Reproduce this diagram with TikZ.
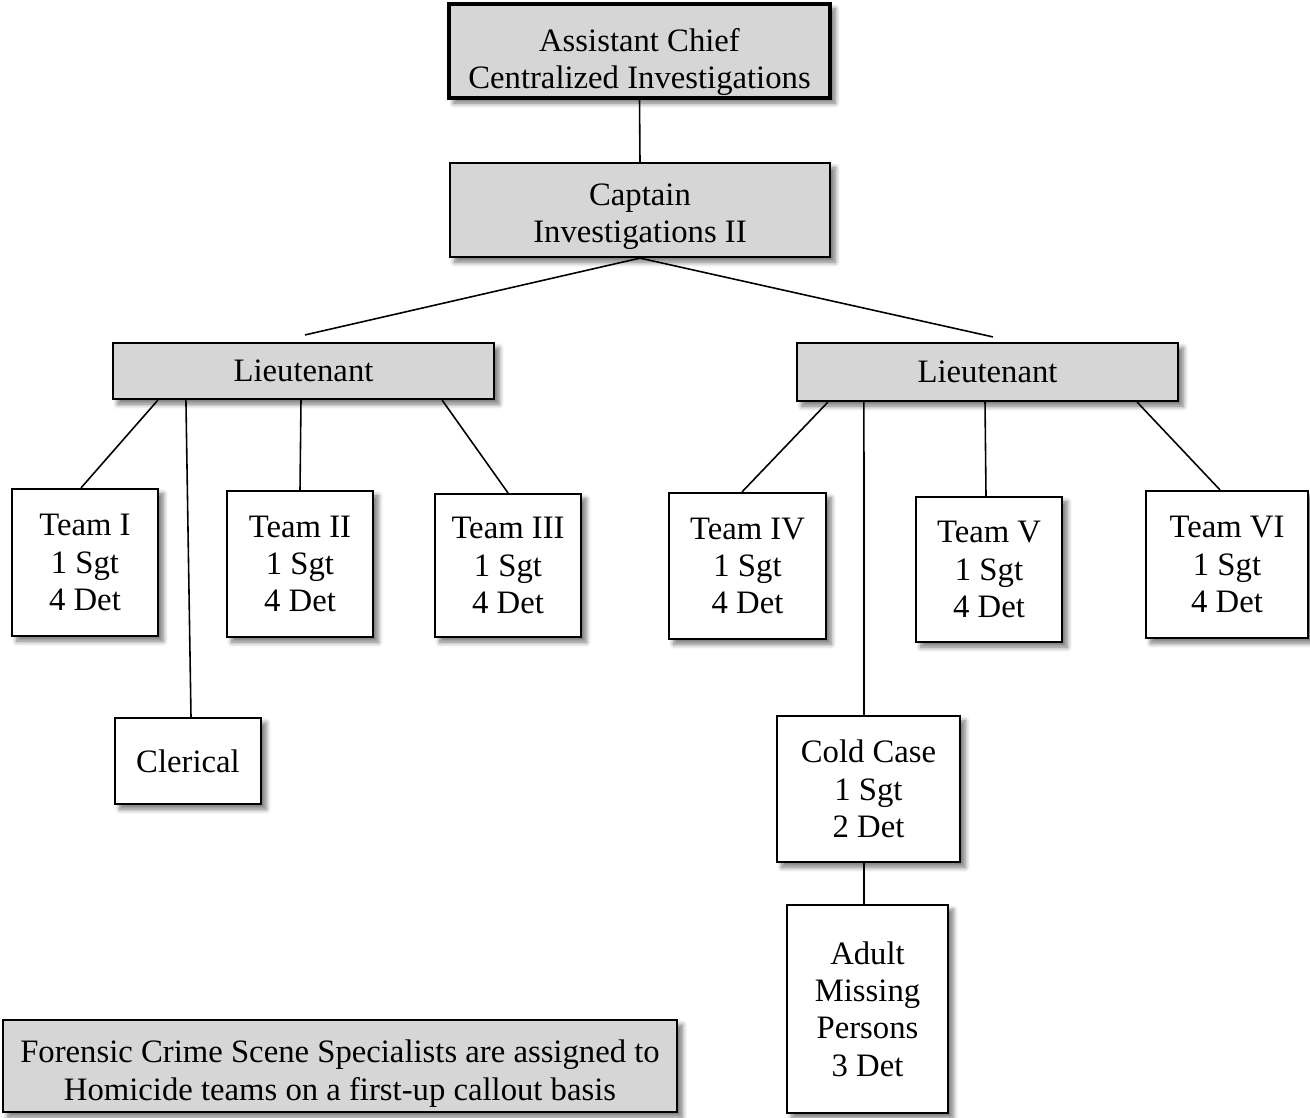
\documentclass[tikz,border=0pt]{standalone}
\usepackage{fontspec}
\setmainfont{Liberation Serif}
\usetikzlibrary{shadows.blur}

\tikzset{
  sombra/.style={blur shadow={shadow xshift=0.05cm, shadow yshift=-0.05cm, shadow blur radius=0.05cm, shadow blur steps=6, shadow opacity=55}},
  gris/.style={draw, line width=0.6pt, fill=gray!32, sombra, align=center, inner sep=0pt,
    font=\fontsize{9.3}{10.6}\selectfont},
  blanca/.style={gris, fill=white},
  jefe/.style={gris, line width=1.2pt},
  linea/.style={line width=0.45pt}
}

\begin{document}
\begin{tikzpicture}[x=0.01cm, y=-0.01cm]
%marco del dibujo
\useasboundingbox (0,0) rectangle (1310,1117);

%mandos superiores
\node[jefe, minimum width=3.81cm, minimum height=0.94cm, text height=0.75cm, text depth=0pt] (ac) at (639.5,51) {Assistant Chief\\Centralized Investigations};
\node[gris, minimum width=3.80cm, minimum height=0.94cm, text height=0.65cm, text depth=0pt] (capt) at (640,210) {Captain\\Investigations II};

%tenientes
\node[gris, minimum width=3.81cm, minimum height=0.56cm] (lt1) at (303.5,371) {Lieutenant};
\node[gris, minimum width=3.81cm, minimum height=0.58cm] (lt2) at (987.5,372) {Lieutenant};

%equipos
\node[blanca, minimum width=1.46cm, minimum height=1.47cm] (t1) at (85,562.5) {Team I\\1 Sgt\\4 Det};
\node[blanca, minimum width=1.46cm, minimum height=1.46cm] (t2) at (300,564) {Team II\\1 Sgt\\4 Det};
\node[blanca, minimum width=1.46cm, minimum height=1.43cm] (t3) at (508,565.5) {Team III\\1 Sgt\\4 Det};
\node[blanca, minimum width=1.57cm, minimum height=1.46cm] (t4) at (747.5,566) {Team IV\\1 Sgt\\4 Det};
\node[blanca, minimum width=1.46cm, minimum height=1.45cm] (t5) at (989,569.5) {Team V\\1 Sgt\\4 Det};
\node[blanca, minimum width=1.62cm, minimum height=1.47cm] (t6) at (1227,564.5) {Team VI\\1 Sgt\\4 Det};

%otras unidades
\node[blanca, minimum width=1.46cm, minimum height=0.86cm] (cler) at (188,761) {Clerical};
\node[blanca, minimum width=1.83cm, minimum height=1.46cm] (cold) at (868.5,789) {Cold Case\\1 Sgt\\2 Det};
\node[blanca, minimum width=1.61cm, minimum height=2.08cm] (amp) at (867.5,1009) {Adult\\Missing\\Persons\\3 Det};

%nota
\node[gris, minimum width=6.74cm, minimum height=0.92cm, text height=0.68cm, text depth=0pt] (fcs) at (340,1066) {Forensic Crime Scene Specialists are assigned to\\Homicide teams on a first-up callout basis};

%lineas de mando
\draw[linea] (ac.south) -- (capt.north);
\draw[linea] (capt.south) -- ([xshift=0.015cm, yshift=0.07cm]lt1.north);
\draw[linea] (capt.south) -- ([xshift=0.055cm, yshift=0.05cm]lt2.north);

%lineas del teniente izquierdo
\draw[linea] ([xshift=-1.455cm]lt1.south) -- ([xshift=-0.04cm]t1.north);
\draw[linea] ([xshift=-1.175cm]lt1.south) -- ([xshift=0.03cm]cler.north);
\draw[linea] ([xshift=-0.025cm]lt1.south) -- (t2.north);
\draw[linea] ([xshift=1.385cm]lt1.south) -- (t3.north);

%lineas del teniente derecho
\draw[linea] ([xshift=-1.595cm]lt2.south) -- ([xshift=-0.055cm]t4.north);
\draw[linea] ([xshift=-1.235cm]lt2.south) -- ([xshift=-0.045cm]cold.north);
\draw[linea] ([xshift=-0.025cm]lt2.south) -- ([xshift=-0.03cm]t5.north);
\draw[linea] ([xshift=1.495cm]lt2.south) -- ([xshift=-0.07cm]t6.north);
\draw[linea] ([xshift=-0.045cm]cold.south) -- ([xshift=-0.035cm]amp.north);
\end{tikzpicture}
\end{document}
